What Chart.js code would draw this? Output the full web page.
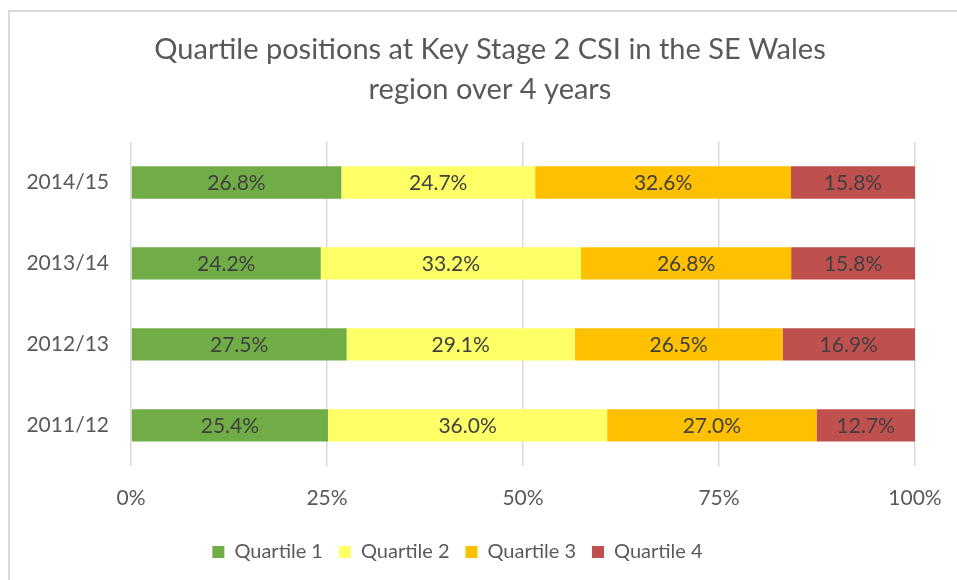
<!DOCTYPE html>
<html>
<head>
<meta charset="utf-8">
<script src="https://cdn.jsdelivr.net/npm/chart.js@4"></script>
<style>
    html, body { margin: 0; padding: 0; background: #fff; }
    .frame { position: absolute; left: 8px; top: 10px; width: 1000px; height: 1000px;
             border-left: 2px solid #d9d9d9; border-top: 2px solid #d9d9d9; }
    #chart { position: absolute; left: 0; top: 0; }
</style>
</head>
<body>
<div class="frame"></div>
<canvas id="chart" width="957" height="580"></canvas>
<script>
const chartTitle = ['Quartile positions at Key Stage 2 CSI in the SE Wales', 'region over 4 years'];
const years = ['2014/15', '2013/14', '2012/13', '2011/12'];
const quartile1 = [26.8, 24.2, 27.5, 25.4];
const quartile2 = [24.7, 33.2, 29.1, 36.0];
const quartile3 = [32.6, 26.8, 26.5, 27.0];
const quartile4 = [15.8, 15.8, 16.9, 12.7];
const seriesNames = ['Quartile 1', 'Quartile 2', 'Quartile 3', 'Quartile 4'];
const xTicks = [0, 25, 50, 75, 100];

const colors = ['#70ad47', '#ffff66', '#ffc000', '#c0504d'];
const allSeries = [quartile1, quartile2, quartile3, quartile4];

// 100% stacked: each row is scaled to its own total, labels keep the raw values
const totals = years.map((y, i) => allSeries.reduce((s, arr) => s + arr[i], 0));

const barLabels = {
    id: 'barLabels',
    afterDatasetsDraw(chart) {
        const ctx = chart.ctx;
        ctx.save();
        ctx.font = '21px Lato';
        ctx.fillStyle = '#404040';
        ctx.textAlign = 'center';
        ctx.textBaseline = 'middle';
        chart.data.datasets.forEach((ds, di) => {
            chart.getDatasetMeta(di).data.forEach((bar, i) => {
                const p = bar.getCenterPoint();
                ctx.fillText(ds.raw[i].toFixed(1) + '%', p.x, p.y + 1);
            });
        });
        ctx.restore();
    }
};

// title is centred on the frame, not on the plot
const frameTitle = {
    id: 'frameTitle',
    afterDraw(chart) {
        const ctx = chart.ctx;
        ctx.save();
        ctx.font = '29px Lato';
        ctx.fillStyle = '#595959';
        ctx.textAlign = 'center';
        ctx.textBaseline = 'middle';
        chartTitle.forEach((line, i) => ctx.fillText(line, 490, 50 + i * 40));
        ctx.restore();
    }
};

Chart.defaults.font.family = 'Lato';
Chart.defaults.color = '#595959';

new Chart(document.getElementById('chart'), {
    type: 'bar',
    data: {
        labels: years,
        datasets: allSeries.map((arr, k) => ({
            label: seriesNames[k],
            raw: arr,
            data: arr.map((v, i) => v / totals[i] * 100),
            backgroundColor: colors[k],
            borderWidth: 0,
            barPercentage: 0.8,
            categoryPercentage: 0.5
        }))
    },
    options: {
        indexAxis: 'y',
        responsive: false,
        animation: false,
        layout: { padding: { left: 0, right: 42, top: 142, bottom: 8 } },
        plugins: {
            title: { display: false },
            legend: {
                position: 'bottom',
                labels: {
                    boxWidth: 12,
                    boxHeight: 12,
                    padding: 16,
                    font: { size: 20 },
                    color: '#595959'
                }
            },
            tooltip: { enabled: false }
        },
        scales: {
            x: {
                stacked: true,
                min: 0,
                max: 100,
                afterBuildTicks: (scale) => { scale.ticks = xTicks.map(v => ({ value: v })); },
                afterFit: (scale) => { scale.paddingRight = 0; scale.height -= 5; },
                ticks: {
                    callback: (v) => v + '%',
                    font: { size: 21 },
                    padding: 20
                },
                grid: { color: '#d9d9d9', lineWidth: 1.5, drawTicks: false },
                border: { display: false }
            },
            y: {
                stacked: true,
                afterFit: (scale) => { scale.width = 131; },
                ticks: { font: { size: 21 }, padding: 14 },
                grid: { display: false },
                border: { display: false }
            }
        }
    },
    plugins: [barLabels, frameTitle]
});
</script>
</body>
</html>
